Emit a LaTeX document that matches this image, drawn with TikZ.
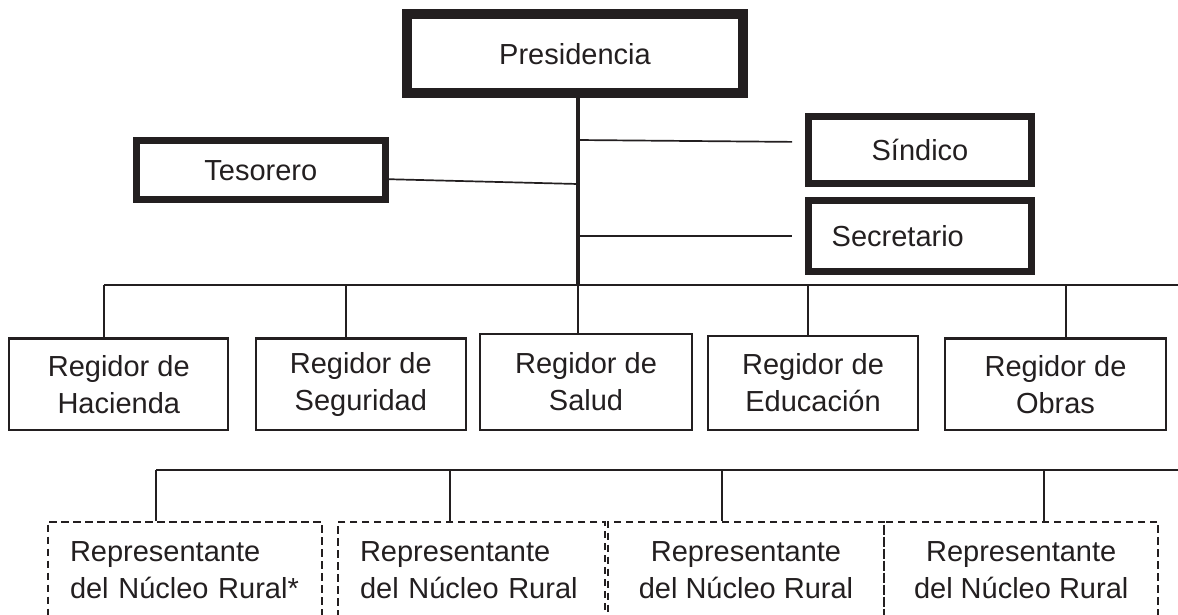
\documentclass[tikz,border=0pt]{standalone}
\usepackage{fontspec}
\setmainfont{Liberation Sans}
\usepackage{xcolor}
\definecolor{ink}{HTML}{231F20}
\usepackage{tikz}
\usetikzlibrary{calc,positioning}
\tikzset{
    every node/.style={font=\fontsize{29}{37}\selectfont, align=center, text=ink, inner sep=0},
    headbox/.style={draw=ink, line width=8.3, minimum width=338, minimum height=80.5},
    officebox/.style={draw=ink, line width=6.6, minimum width=223.4, minimum height=66.6},
    regbox/.style={draw=ink, line width=2.3, minimum height=91.7},
    repbox/.style={draw=ink, line width=2.3, dash pattern=on 7.5pt off 4.5pt, minimum width=274, minimum height=97},
    link/.style={draw=ink, line width=1.7},
    trunk/.style={draw=ink, line width=4.3}
}
\begin{document}
\begin{tikzpicture}[x=1pt, y=-1pt]
      \useasboundingbox (0,0) rectangle (1178,614);
      \clip (0,0) rectangle (1178,614);
      % top
      \node[headbox] (pres) at (575,53.8) {Presidencia};
      \draw[ink, line width=2.1] ([shift={(9,9)}]pres.north west) rectangle ([shift={(-9,-9)}]pres.south east);
      \node[officebox, minimum width=249, minimum height=59] (tes) at (260.8,170.2) {Tesorero};
      \node[officebox] (sin) at (920,150) {Síndico};
      \node[officebox, minimum height=71.4, inner xsep=23.4, text width=176.6, align=left] (sec) at (920,236) {Secretario};
      % regidores
      \node[regbox, minimum width=219] (hac) at (118.8,384.2) {Regidor de\\Hacienda};
      \node[regbox, minimum width=210.3] (seg) at (360.8,384.2) {Regidor de\\Seguridad};
      \node[regbox, minimum width=212, minimum height=96] (sal) at (586,382) {Regidor de\\Salud};
      \node[regbox, minimum width=210, minimum height=94] (edu) at (813,383) {Regidor de\\Educación};
      \node[regbox, minimum width=221] (obr) at (1055.5,384.2) {Regidor de\\Obras};
      % representantes
      \node[repbox, inner xsep=22.3, text width=229.4, align=left] (rep1) at (184.7,570.2) {Representante\\del Núcleo Rural*};
      \node[repbox, minimum width=267.3, inner xsep=22.3, text width=222.7, align=left] (rep2) at (471.4,570.2) {Representante\\del Núcleo Rural};
      \node[repbox, minimum width=276] (rep3) at (746,570.2) {Representante\\del Núcleo Rural};
      \node[repbox] (rep4) at (1021.2,570.2) {Representante\\del Núcleo Rural};

      % trunk and side offices
      \coordinate (hub) at (578,285);
      \coordinate (tTes) at (578,184);
      \coordinate (tSin) at (578,140);
      \coordinate (tSec) at (578,236);
      \draw[trunk] (pres.south -| hub) -- (hub);
      \draw[link] ([yshift=-9pt]tes.east) -- (tTes);
      \draw[link, shorten >=13] (tSin) -- ([yshift=8pt]sin.west);
      \draw[link, shorten >=13] (tSec) -- (sec.west);

      % upper bus
      \coordinate (b1) at (104,285);
      \coordinate (b2) at (346,285);
      \coordinate (b4) at (808,285);
      \coordinate (b5) at (1066,285);
      \coordinate (bEnd) at (1178,285);
      \draw[link] (b1) -- (bEnd);
      \foreach \b/\n in {b1/hac, b2/seg, hub/sal, b4/edu, b5/obr}
          \draw[link] (\b) -- (\b |- \n.north);

      % lower bus
      \coordinate (c1) at (156,470);
      \coordinate (c2) at (450,470);
      \coordinate (c3) at (722,470);
      \coordinate (c4) at (1044,470);
      \coordinate (cEnd) at (1178,470);
      \draw[link] (c1) -- (cEnd);
      \foreach \c/\n in {c1/rep1, c2/rep2, c3/rep3, c4/rep4}
          \draw[link] (\c) -- (\c |- \n.north);
\end{tikzpicture}
\end{document}
